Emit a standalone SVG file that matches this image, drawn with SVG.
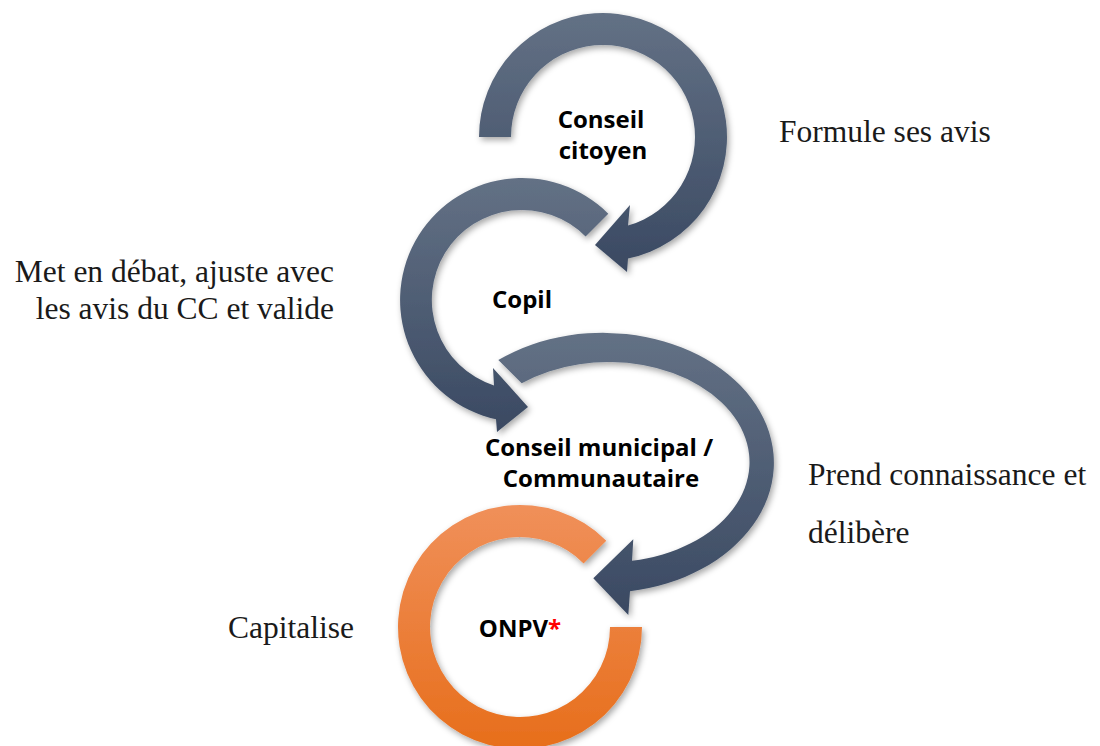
<svg xmlns="http://www.w3.org/2000/svg" width="1100" height="746" viewBox="0 0 1100 746">
  <defs>
    <linearGradient id="slate" x1="0" y1="0" x2="0" y2="1">
      <stop offset="0" stop-color="#637185"/>
      <stop offset="1" stop-color="#3a4962"/>
    </linearGradient>
    <linearGradient id="orange" x1="0" y1="0" x2="0" y2="1">
      <stop offset="0" stop-color="#f0905a"/>
      <stop offset="1" stop-color="#e76e1b"/>
    </linearGradient>
    <filter id="shadow" x="-10%" y="-10%" width="125%" height="125%">
      <feDropShadow dx="2" dy="3" stdDeviation="3" flood-color="#000" flood-opacity="0.35"/>
    </filter>
  </defs>
  <style>
    .arrow { fill: url(#slate); filter: url(#shadow); }
    .ring { fill: url(#orange); filter: url(#shadow); }
    .lbl { font-family: "Open Sans", "Noto Sans", sans-serif; font-weight: bold; font-size: 24px; fill: #000; text-anchor: middle; }
    .desc { font-family: "Liberation Serif", "Times New Roman", serif; font-size: 31.5px; fill: #1a1a1a; }
  </style>
  <rect width="1100" height="746" fill="#fff"/>

  <g id="connectors">
    <path id="arrow-cc" class="arrow" d="M 479,137 A 124 124 0 1 1 628,258.5 L 627,272 L 595,245 L 630,205 L 628,225.5 A 92 92 0 1 0 511,137 Z"/>
    <path id="arrow-copil" class="arrow" d="M 608.3,213.7 A 122 122 0 1 0 496,419.2 L 497,432 L 528,407 L 493,368 L 494,385.5 A 90 90 0 1 1 585.6,236.4 Z"/>
    <path id="arrow-cm" class="arrow" d="M 498.3,360 A 171 130 0 1 1 630,591.2 L 628.3,615 L 593.3,578.3 L 633.3,539.3 L 632,560.7 A 141 100 0 1 0 521.7,383.3 Z"/>
  </g>

  <g id="node-onpv-ring">
    <path class="ring" d="M 642,627 A 122 122 0 1 1 606.3,540.7 L 583.6,563.4 A 90 90 0 1 0 610,627 Z"/>
  </g>

  <g id="node-conseil-citoyen">
    <text class="lbl" x="601" y="128">Conseil</text>
    <text class="lbl" x="603" y="159">citoyen</text>
  </g>
  <g id="node-copil">
    <text class="lbl" x="522" y="308">Copil</text>
  </g>
  <g id="node-conseil-municipal">
    <text class="lbl" x="599" y="456">Conseil municipal /</text>
    <text class="lbl" x="601" y="487">Communautaire</text>
  </g>
  <g id="node-onpv">
    <text class="lbl" x="520" y="637">ONPV<tspan fill="#ff0000">*</tspan></text>
  </g>

  <g id="descriptions">
    <text class="desc" x="779" y="142">Formule ses avis</text>
    <text class="desc" x="334" y="281.5" text-anchor="end">Met en débat, ajuste avec</text>
    <text class="desc" x="334" y="318.5" text-anchor="end">les avis du CC et valide</text>
    <text class="desc" x="808" y="485">Prend connaissance et</text>
    <text class="desc" x="808" y="543">délibère</text>
    <text class="desc" x="228" y="638">Capitalise</text>
  </g>
</svg>
